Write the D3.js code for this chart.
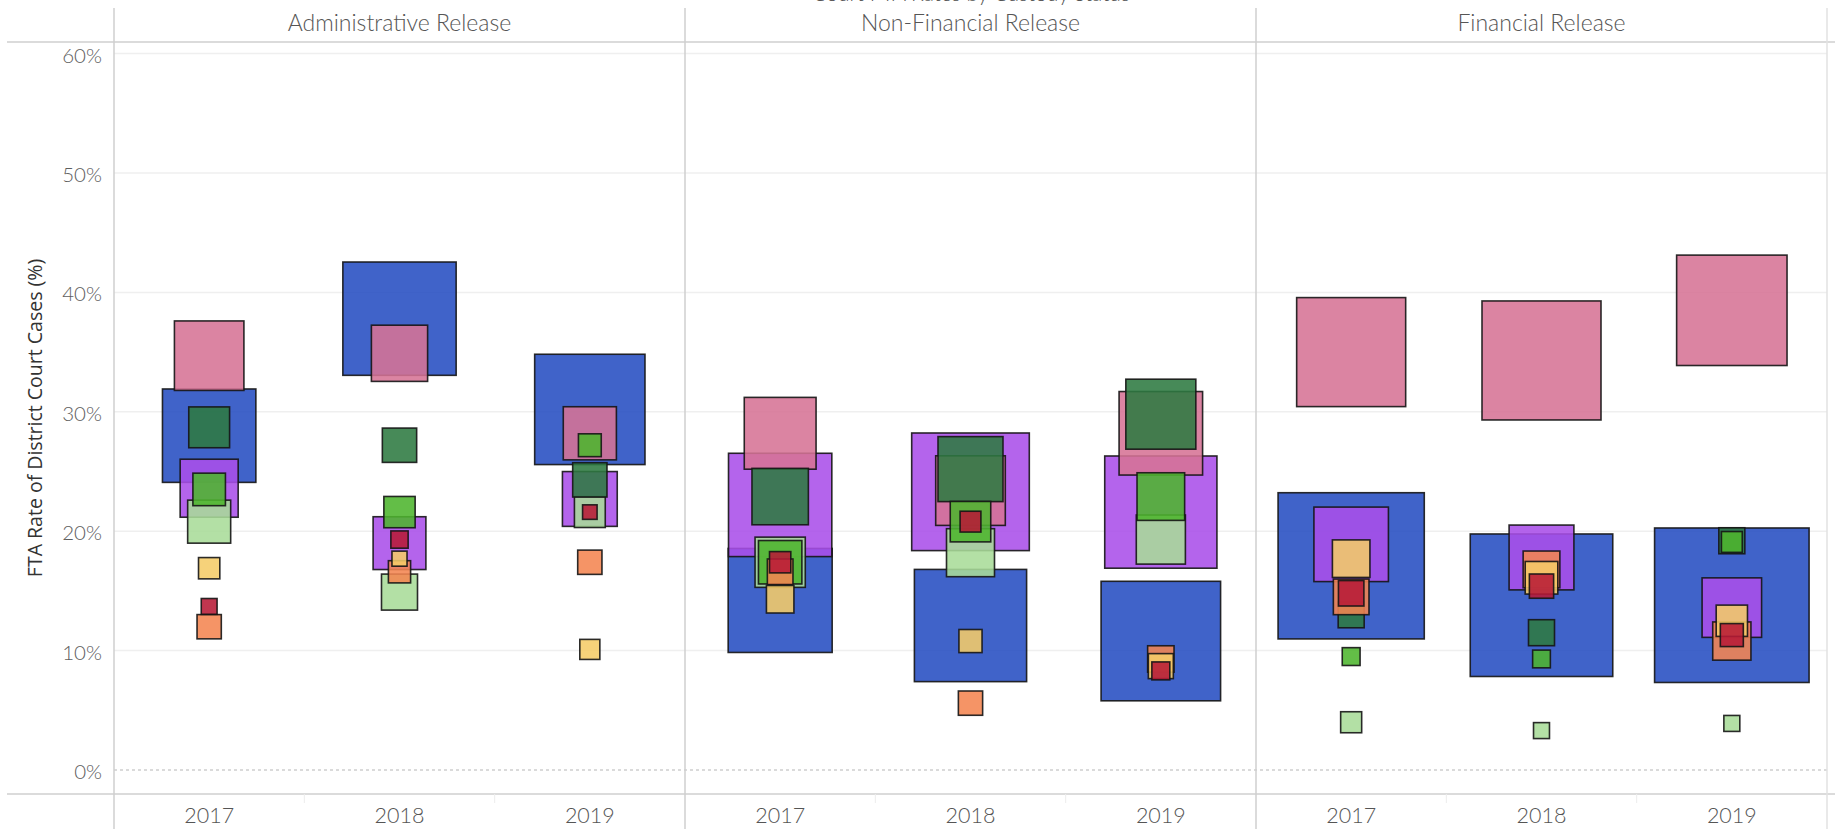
<!DOCTYPE html>
<html lang="en">
<head>
<meta charset="UTF-8">
<title>FTA Rate of District Court Cases</title>
<script src="https://d3js.org/d3.v7.min.js"></script>
<style>
  body { margin: 0; background: #fff; }
  text { font-family: Lato, "Open Sans", sans-serif; }
</style>
</head>
<body>
<div id="chart"></div>
<script>

// Facets (release type) and x categories (year)
const panels = ["Administrative Release", "Non-Financial Release", "Financial Release"];
const years = ["2017", "2018", "2019"];

// Colour groups, listed in drawing order (bottom to top)
const groups = ["blue", "purple", "pink", "lightgreen", "darkgreen", "green", "orange", "yellow", "red"];
const groupColors = ["#264dc1", "#aa4fe9", "#d67395", "#a8dc98", "#2d7a41", "#4db52d", "#f48551", "#f5cc68", "#b71a37"];

// FTA rate (%) - order: Admin 17/18/19, Non-Fin 17/18/19, Fin 17/18/19
const rateBlue       = [28.0, 37.8, 30.2, 14.2, 12.1, 10.8, 17.1, 13.8, 13.8];
const ratePurple     = [23.6, 19.0, 22.7, 22.2, 23.3, 21.6, 18.9, 17.8, 13.6];
const ratePink       = [34.7, 34.9, 28.2, 28.2, 23.4, 28.2, 35.0, 34.3, 38.5];
const rateLightGreen = [20.8, 14.9, 21.6, 17.4, 18.2, 19.3, 4.0, 3.3, 3.9];
const rateDarkGreen  = [28.7, 27.2, 24.3, 22.9, 25.2, 29.8, 13.0, 11.5, 19.2];
const rateGreen      = [23.5, 21.6, 27.2, 17.4, 20.8, 22.9, 9.5, 9.3, 19.1];
const rateOrange     = [12.0, 16.6, 17.4, 16.6, 5.6, 9.3, 14.5, 16.8, 10.8];
const rateYellow     = [16.9, 17.7, 10.1, 14.3, 10.8, 8.7, 17.7, 16.1, 12.5];
const rateRed        = [13.7, 19.3, 21.6, 17.4, 20.8, 8.3, 14.8, 15.4, 11.3];

// Number of cases (drives square size)
const casesBlue       = [2193, 3227, 3059, 2719, 3165, 3590, 5373, 5105, 6000];
const casesPurple     = [846, 701, 755, 2683, 3477, 3165, 1395, 1056, 890];
const casesPink       = [1214, 794, 709, 1296, 1218, 1753, 2987, 3560, 3064];
const casesLightGreen = [465, 326, 239, 634, 579, 606, 111, 64, 64];
const casesDarkGreen  = [419, 296, 296, 800, 1062, 1232, 170, 170, 170];
const casesGreen      = [266, 246, 131, 474, 412, 570, 80, 79, 109];
const casesOrange     = [148, 124, 148, 165, 148, 175, 319, 339, 367];
const casesYellow     = [114, 57, 101, 190, 134, 157, 354, 267, 246];
const casesRed        = [63, 75, 53, 114, 109, 81, 163, 148, 133];

const yTicks = [0, 10, 20, 30, 40, 50, 60];

const rates = [rateBlue, ratePurple, ratePink, rateLightGreen, rateDarkGreen, rateGreen, rateOrange, rateYellow, rateRed];
const cases = [casesBlue, casesPurple, casesPink, casesLightGreen, casesDarkGreen, casesGreen, casesOrange, casesYellow, casesRed];

// flat mark list
const marks = [];
groups.forEach((g, gi) => {
    rates[gi].forEach((r, k) => {
        marks.push({group: g, color: groupColors[gi], panel: panels[Math.floor(k / 3)], year: years[k % 3], rate: r, cases: cases[gi][k]});
    });
});

const width = 1835;
const height = 829;
const plotLeft = 114, plotRight = 1827;
const headerTop = 8, headerBottom = 42, axisLine = 794;

const svg = d3.select("#chart").append("svg")
    .attr("width", width)
    .attr("height", height);

// scales
const xPanel = d3.scaleBand().domain(panels).range([plotLeft, plotRight]);
const xYear = d3.scaleBand().domain(years).range([0, xPanel.bandwidth()]);
const y = d3.scaleLinear().domain([0, 60]).range([770, 53.6]);
const size = d3.scaleSqrt().domain([0, 6000]).range([0, 154.5]);

// gridlines
svg.append("g")
    .selectAll("line")
    .data(yTicks.filter(d => d > 0))
    .join("line")
    .attr("x1", plotLeft).attr("x2", plotRight)
    .attr("y1", d => y(d)).attr("y2", d => y(d))
    .attr("stroke", "#efefef")
    .attr("stroke-width", 1.5);

svg.append("line")
    .attr("x1", plotLeft).attr("x2", plotRight)
    .attr("y1", y(0)).attr("y2", y(0))
    .attr("stroke", "#b5b5b5")
    .attr("stroke-dasharray", "3,3");

// frame lines
svg.append("line")
    .attr("x1", 7).attr("x2", width)
    .attr("y1", headerBottom).attr("y2", headerBottom)
    .attr("stroke", "#cfcfcf").attr("stroke-width", 1.5);
svg.append("line")
    .attr("x1", 7).attr("x2", width)
    .attr("y1", axisLine).attr("y2", axisLine)
    .attr("stroke", "#cfcfcf").attr("stroke-width", 1.5);

const edges = panels.map(p => xPanel(p)).concat([plotRight]);
svg.append("g")
    .selectAll("line")
    .data(edges)
    .join("line")
    .attr("x1", d => d).attr("x2", d => d)
    .attr("y1", headerTop).attr("y2", height)
    .attr("stroke", (d, i) => i === edges.length - 1 ? "#e2e2e2" : "#cfcfcf")
    .attr("stroke-width", 1.5);

// small separators between years on the x axis
const seps = [];
panels.forEach(p => years.slice(1).forEach(yr => seps.push(xPanel(p) + xYear(yr))));
svg.append("g")
    .selectAll("line")
    .data(seps)
    .join("line")
    .attr("x1", d => d).attr("x2", d => d)
    .attr("y1", axisLine).attr("y2", axisLine + 9)
    .attr("stroke", "#ececec");

// chart title, mostly above the visible area as in the original view
svg.append("text")
    .attr("x", 971).attr("y", 1)
    .attr("text-anchor", "middle")
    .attr("font-size", 21)
    .attr("font-weight", 300)
    .attr("fill", "#555")
    .text("Court FTA Rates by Custody Status");

// panel headers
svg.append("g")
    .selectAll("text")
    .data(panels)
    .join("text")
    .attr("x", d => xPanel(d) + xPanel.bandwidth() / 2)
    .attr("y", 31)
    .attr("text-anchor", "middle")
    .attr("font-size", 23)
    .attr("font-weight", 300)
    .attr("fill", "#555")
    .text(d => d);

// year labels
const yearLabels = [];
panels.forEach(p => years.forEach(yr => yearLabels.push({p, yr})));
svg.append("g")
    .selectAll("text")
    .data(yearLabels)
    .join("text")
    .attr("x", d => xPanel(d.p) + xYear(d.yr) + xYear.bandwidth() / 2)
    .attr("y", 823)
    .attr("text-anchor", "middle")
    .attr("font-size", 21.5)
    .attr("font-weight", 300)
    .attr("fill", "#555")
    .text(d => d.yr);

// y tick labels
svg.append("g")
    .selectAll("text")
    .data(yTicks)
    .join("text")
    .attr("x", 102)
    .attr("y", d => y(d) + 9)
    .attr("text-anchor", "end")
    .attr("font-size", 20.5)
    .attr("font-weight", 300)
    .attr("fill", "#5e5e5e")
    .text(d => d + "%");

// y axis title
svg.append("text")
    .attr("transform", "translate(42,418) rotate(-90)")
    .attr("text-anchor", "middle")
    .attr("font-size", 19.5)
    .attr("fill", "#333")
    .style("font-family", "'Open Sans', sans-serif")
    .text("FTA Rate of District Court Cases (%)");

// square marks
svg.append("g")
    .selectAll("rect")
    .data(marks)
    .join("rect")
    .attr("x", d => xPanel(d.panel) + xYear(d.year) + xYear.bandwidth() / 2 - size(d.cases) / 2)
    .attr("y", d => y(d.rate) - size(d.cases) / 2)
    .attr("width", d => size(d.cases))
    .attr("height", d => size(d.cases))
    .attr("fill", d => d.color)
    .attr("fill-opacity", 0.88)
    .attr("stroke", "#151515")
    .attr("stroke-width", 1.6)
    .attr("stroke-opacity", 0.9);

</script>
</body>
</html>
